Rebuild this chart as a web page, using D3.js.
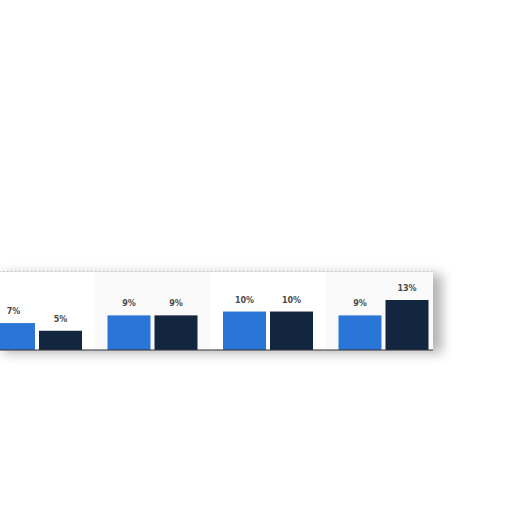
<!DOCTYPE html>
<html><head><meta charset="utf-8">
<script src="https://cdn.jsdelivr.net/npm/d3@7"></script>
<style>html,body{margin:0;padding:0;background:#fff;}svg{display:block;}</style>
</head><body>
<svg id="c" width="512" height="512"></svg>
<script>
const categories = ["G1", "G2", "G3", "G4"];
const seriesNames = ["A", "B"];
const seriesA = [7, 9, 10, 9];
const seriesB = [5, 9, 10, 13];
const colors = ["#2a76d8", "#13263f"];

const svg = d3.select("#c");
svg.append("rect").attr("width",512).attr("height",512).attr("fill","#fff");

const panel = {x0:-6, x1:433, y0:271, y1:350};
const x = d3.scaleBand().domain(categories).range([-20.75, 441.25]).paddingInner(0.2208).paddingOuter(0.1104);
const xs = d3.scaleBand().domain(seriesNames).range([0, x.bandwidth()]).paddingInner(0.0851);
const y = d3.scaleLinear().domain([0, 13]).range([panel.y1, 300]);

const defs = svg.append("defs");
const f = defs.append("filter").attr("id","sh").attr("x","-10%").attr("y","-40%").attr("width","130%").attr("height","190%");
f.append("feGaussianBlur").attr("in","SourceAlpha").attr("stdDeviation",6);
f.append("feOffset").attr("dx",9).attr("dy",3).attr("result","b");
f.append("feComponentTransfer").append("feFuncA").attr("type","linear").attr("slope",0.3);
const m = f.append("feMerge"); m.append("feMergeNode"); m.append("feMergeNode").attr("in","SourceGraphic");
defs.append("clipPath").attr("id","pc").append("rect")
  .attr("x",panel.x0).attr("y",panel.y0).attr("width",panel.x1-panel.x0).attr("height",panel.y1-panel.y0);

svg.append("rect").attr("x",panel.x0).attr("y",panel.y0).attr("width",panel.x1-panel.x0).attr("height",panel.y1-panel.y0)
  .attr("fill","#fff").attr("filter","url(#sh)");

const g = svg.append("g").attr("clip-path","url(#pc)");
const step = x.step();
g.selectAll("rect.band").data(categories.filter((d,i)=>i%2===1)).join("rect")
  .attr("x", d => x(d) + x.bandwidth()/2 - step/2).attr("width", step)
  .attr("y", panel.y0).attr("height", panel.y1-panel.y0).attr("fill","#fafafa");

svg.append("line").attr("x1",panel.x0).attr("x2",panel.x1).attr("y1",panel.y0+0.5).attr("y2",panel.y0+0.5)
  .attr("stroke","#d0d0d0").attr("stroke-width",1.2).attr("stroke-dasharray","3,1");

const data = categories.map((c,i)=>({c, vals:[{s:"A",v:seriesA[i],k:0},{s:"B",v:seriesB[i],k:1}]}));
const grp = svg.selectAll("g.grp").data(data).join("g").attr("transform", d=>`translate(${x(d.c)},0)`);
grp.selectAll("rect").data(d=>d.vals).join("rect")
  .attr("x", d=>xs(d.s)).attr("width", xs.bandwidth())
  .attr("y", d=>y(d.v)).attr("height", d=>y(0)-y(d.v)).attr("fill", d=>colors[d.k]);
grp.selectAll("text").data(d=>d.vals).join("text")
  .attr("x", d=>xs(d.s)+xs.bandwidth()/2).attr("y", d=>y(d.v)-9)
  .attr("text-anchor","middle").attr("font-family","'DejaVu Sans', sans-serif")
  .attr("font-size",8).attr("font-weight","bold").attr("fill","#4a4a4a")
  .text(d=>d.v+"%");

svg.append("line").attr("x1",panel.x0).attr("x2",panel.x1).attr("y1",y(0)).attr("y2",y(0))
  .attr("stroke","#333").attr("stroke-width",1.2);
</script>
</body></html>
